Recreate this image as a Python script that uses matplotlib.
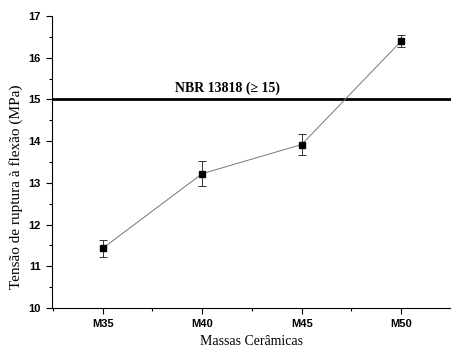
import numpy as np
import matplotlib.pyplot as plt
from matplotlib.ticker import MultipleLocator

massas = ['M35', 'M40', 'M45', 'M50']
tensao = [11.43, 13.22, 13.92, 16.40]
erro = [0.20, 0.30, 0.25, 0.15]
limite_nbr = 15

fig = plt.figure(figsize=(4.51, 3.49), dpi=100)
ax = fig.add_axes([0.115, 0.1175, 0.885, 0.8365])

x = np.arange(len(massas))
ax.plot(x, tensao, '-', color='#777777', lw=0.7, zorder=2)
ax.errorbar(x, tensao, yerr=erro, fmt='none', ecolor='#333333',
            elinewidth=0.7, capsize=3, capthick=0.7, zorder=3)
ax.plot(x, tensao, 's', color='black', ms=5, zorder=4)

ax.axhline(limite_nbr, color='black', lw=2, zorder=1)
ax.text(1.25, limite_nbr + 0.1, 'NBR 13818 (\u2265 15)', ha='center', va='bottom',
        family='Liberation Serif', fontweight='bold', fontsize=10)

ax.set_xlim(-0.51, 3.5)
ax.set_ylim(10, 17)
ax.set_xticks(x)
ax.set_xticklabels(massas)
ax.xaxis.set_minor_locator(MultipleLocator(0.5))
ax.yaxis.set_major_locator(MultipleLocator(1))
ax.yaxis.set_minor_locator(MultipleLocator(0.5))
ax.tick_params(which='major', direction='out', length=4, width=0.8, pad=4)
ax.tick_params(which='minor', direction='out', length=2.5, width=0.8)
for lab in ax.get_xticklabels() + ax.get_yticklabels():
    lab.set_family('Liberation Sans')
    lab.set_fontweight('bold')
    lab.set_fontsize(8)

ax.spines['top'].set_visible(False)
ax.spines['right'].set_visible(False)
ax.spines['left'].set_linewidth(0.8)
ax.spines['bottom'].set_linewidth(0.8)

ax.set_xlabel('Massas Cerâmicas', family='Liberation Serif', fontsize=10, labelpad=4)
ax.set_ylabel('Tensão de ruptura à flexão (MPa)', family='Liberation Serif', fontsize=11)
ax.yaxis.set_label_coords(-0.072, 0.415)

fig.savefig('out.png', dpi=100)
